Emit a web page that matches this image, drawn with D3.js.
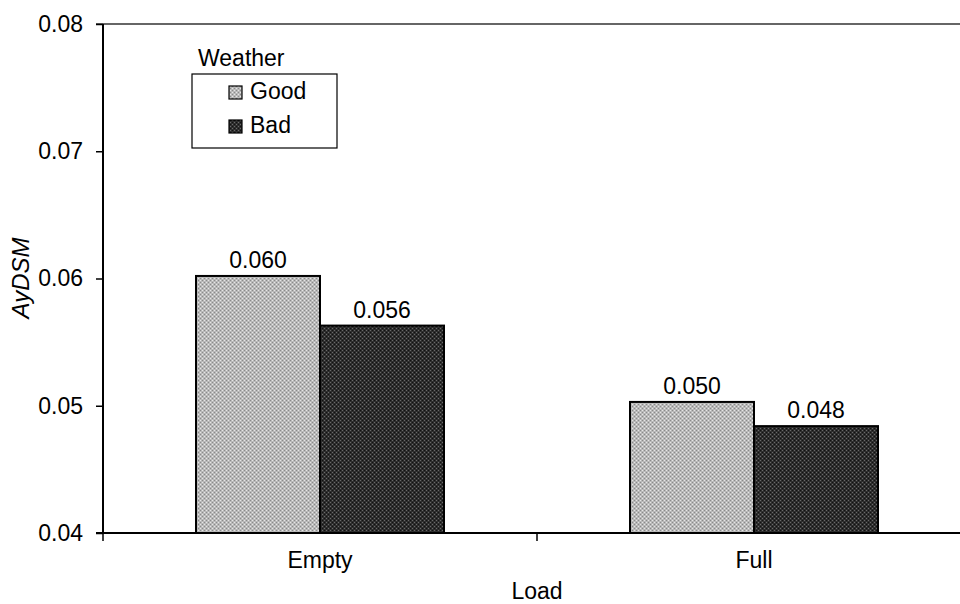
<!DOCTYPE html>
<html><head><meta charset="utf-8">
<script src="https://cdn.jsdelivr.net/npm/d3@7"></script>
<style>body{margin:0;background:#fff}svg{display:block}text{font-family:"Liberation Sans",Arial,sans-serif}</style>
</head><body><svg id="c" width="960" height="604"></svg>
<script>
const categories = ["Empty", "Full"];
const seriesNames = ["Good", "Bad"];
const goodValues = [0.0602, 0.0503];
const badValues = [0.0563, 0.0484];
const goodLabels = ["0.060", "0.050"];
const badLabels = ["0.056", "0.048"];
const yTicks = [0.04, 0.05, 0.06, 0.07, 0.08];
const colors = ["#b9b9b9", "#2e2e2e"];

const svg = d3.select("#c");
const mLeft = 103, mRight = 971, mTop = 24, mBottom = 533;
const x = d3.scaleBand().domain(categories).range([mLeft, mRight]).paddingInner(0).paddingOuter(0);
const y = d3.scaleLinear().domain([0.04, 0.08]).range([mBottom, mTop]);
const inner = d3.scaleBand().domain(seriesNames).range([0, x.bandwidth()]).paddingOuter(0.75).paddingInner(0);

const defs = svg.append("defs");
[["pg", colors[0], "#e6e6e6", "#8a8a8a"], ["pb", colors[1], "#6a6a6a", "#111"]].forEach(([id, base, lt, dk]) => {
  const p = defs.append("pattern").attr("id", id).attr("width", 4).attr("height", 4).attr("patternUnits", "userSpaceOnUse");
  p.append("rect").attr("width", 4).attr("height", 4).attr("fill", base);
  p.append("rect").attr("x", 0).attr("y", 0).attr("width", 1).attr("height", 1).attr("fill", lt);
  p.append("rect").attr("x", 2).attr("y", 2).attr("width", 1).attr("height", 1).attr("fill", lt);
  p.append("rect").attr("x", 2).attr("y", 0).attr("width", 1).attr("height", 1).attr("fill", dk);
  p.append("rect").attr("x", 0).attr("y", 2).attr("width", 1).attr("height", 1).attr("fill", dk);
});
const fills = ["url(#pg)", "url(#pb)"];

svg.append("line").attr("x1", mLeft - 7).attr("x2", 960).attr("y1", mTop).attr("y2", mTop).attr("stroke", "#333").attr("stroke-width", 1.5);

const data = categories.map((c, i) => ({cat: c, vals: [goodValues[i], badValues[i]], labs: [goodLabels[i], badLabels[i]]}));
const g = svg.append("g");
data.forEach(d => {
  d.vals.forEach((v, j) => {
    const bx = x(d.cat) + inner(seriesNames[j]);
    g.append("rect").attr("x", bx).attr("y", y(v)).attr("width", inner.bandwidth()).attr("height", y(0.04) - y(v))
      .attr("fill", fills[j]).attr("stroke", "#000").attr("stroke-width", 2);
    g.append("text").attr("x", bx + inner.bandwidth() / 2).attr("y", y(v) - 8).attr("text-anchor", "middle")
      .attr("font-size", 23).attr("fill", "#000").text(d.labs[j]);
  });
});

const yAxis = d3.axisLeft(y).tickValues(yTicks).tickFormat(d3.format(".2f")).tickSize(7).tickPadding(13);
const ya = svg.append("g").attr("transform", `translate(${mLeft},0)`).call(yAxis);
ya.select(".domain").attr("stroke-width", 2).attr("d", `M0,${mTop}V${mBottom}`);
ya.selectAll(".tick line").attr("stroke-width", 1.5);
ya.selectAll(".tick text").attr("font-size", 23).attr("font-family", "Liberation Sans, Arial, sans-serif").attr("fill", "#000");

const xAxis = d3.axisBottom(x).tickSize(0).tickPadding(0);
const xa = svg.append("g").attr("transform", `translate(0,${mBottom})`).call(xAxis);
xa.select(".domain").attr("stroke-width", 2).attr("d", `M${mLeft - 7},0H960`);
xa.selectAll(".tick text").attr("font-size", 23).attr("font-family", "Liberation Sans, Arial, sans-serif").attr("fill", "#000").attr("dy", 0).attr("y", 35);
[mLeft, x("Full")].forEach(px => {
  svg.append("line").attr("x1", px).attr("x2", px).attr("y1", mBottom).attr("y2", mBottom + 8).attr("stroke", "#000").attr("stroke-width", 1.5);
});

svg.append("text").attr("transform", "translate(29,278) rotate(-90)").attr("text-anchor", "middle")
  .attr("font-size", 24).attr("font-style", "italic").text("AyDSM");
svg.append("text").attr("x", 537).attr("y", 599).attr("text-anchor", "middle").attr("font-size", 23).text("Load");

svg.append("text").attr("x", 198).attr("y", 66).attr("font-size", 23).text("Weather");
svg.append("rect").attr("x", 192).attr("y", 74).attr("width", 145).attr("height", 74).attr("fill", "#fff").attr("stroke", "#000").attr("stroke-width", 1.2);
seriesNames.forEach((s, i) => {
  const ly = 99 + i * 34;
  svg.append("rect").attr("x", 229).attr("y", ly - 13).attr("width", 13).attr("height", 13).attr("fill", fills[i]).attr("stroke", "#000").attr("stroke-width", 1.2);
  svg.append("text").attr("x", 250).attr("y", ly).attr("font-size", 23).text(s);
});
</script></body></html>
